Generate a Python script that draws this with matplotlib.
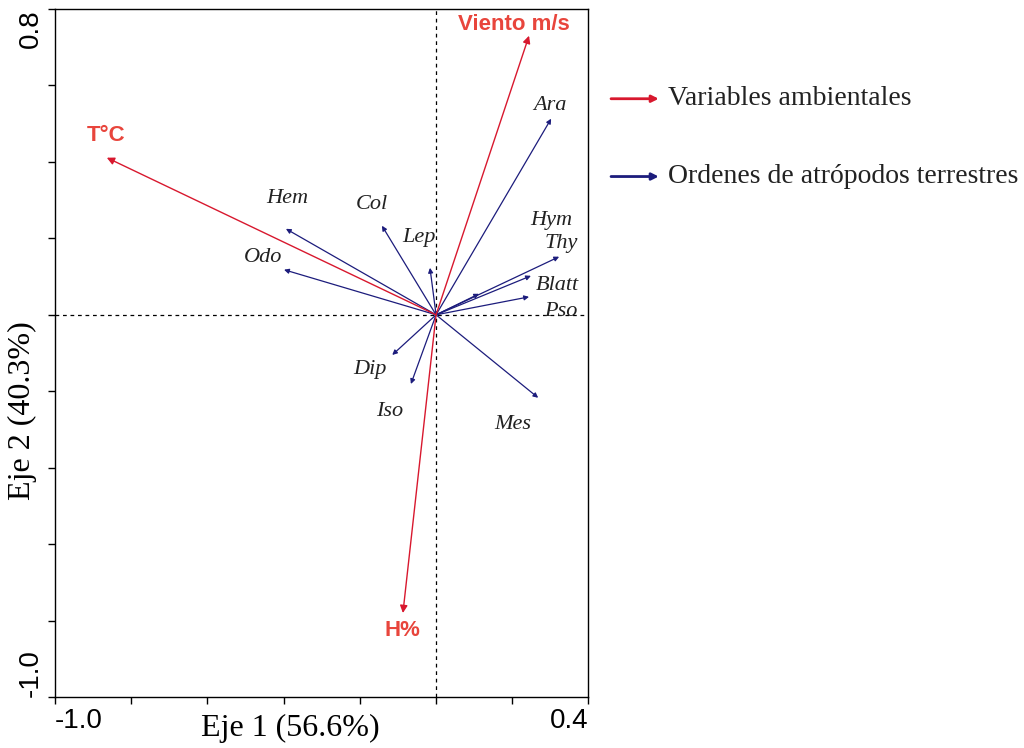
import matplotlib.pyplot as plt

# environmental variables (red vectors)
env_names = ["Viento m/s", "T°C", "H%"]
env_x = [0.244, -0.864, -0.087]
env_y = [0.730, 0.411, -0.780]
env_lab_x = [0.205, -0.866, -0.089]
env_lab_y = [0.760, 0.469, -0.827]

# arthropod orders (blue vectors)
ord_x = [0.302, 0.323, 0.249, 0.244, 0.113, -0.142, -0.016, -0.394, -0.399, -0.115, -0.066, 0.268]
ord_y = [0.513, 0.152, 0.102, 0.047, 0.055, 0.233, 0.123, 0.225, 0.118, -0.105, -0.181, -0.217]

ord_names = ["Ara", "Hym", "Thy", "Blatt", "Pso", "Col", "Lep", "Hem", "Odo", "Dip", "Iso", "Mes"]
ord_lab_x = [0.299, 0.302, 0.328, 0.318, 0.328, -0.168, -0.045, -0.391, -0.454, -0.173, -0.121, 0.202]
ord_lab_y = [0.547, 0.246, 0.186, 0.076, 0.010, 0.288, 0.202, 0.304, 0.149, -0.144, -0.254, -0.288]

red = "#d8182e"
red_txt = "#e8453c"
blue = "#1c1c7c"

fig = plt.figure(figsize=(10.24, 7.48), dpi=100)
ax = fig.add_axes([0.0537, 0.068, 0.521, 0.920])

ax.axvline(0, color="black", ls=(0, (3, 3)), lw=0.9)
ax.axhline(0, color="black", ls=(0, (3, 3)), lw=0.9)

for x, y in zip(ord_x, ord_y):
    ax.annotate("", xy=(x, y), xytext=(0, 0),
                arrowprops=dict(arrowstyle="-|>", color=blue, lw=0.9, mutation_scale=7, shrinkA=0, shrinkB=0))
for name, lx, ly in zip(ord_names, ord_lab_x, ord_lab_y):
    ax.text(lx, ly, name, ha="center", va="center", fontsize=16,
            style="italic", family="Liberation Serif", color="#222222")

for x, y in zip(env_x, env_y):
    ax.annotate("", xy=(x, y), xytext=(0, 0),
                arrowprops=dict(arrowstyle="-|>", color=red, lw=1.0, mutation_scale=11, shrinkA=0, shrinkB=0))
for name, lx, ly in zip(env_names, env_lab_x, env_lab_y):
    ax.text(lx, ly, name, ha="center", va="center", fontsize=16,
            fontweight="bold", family="Liberation Sans", color=red_txt)

ax.set_xlim(-1.0, 0.4)
ax.set_ylim(-1.0, 0.8)

xt = [-1.0, -0.8, -0.6, -0.4, -0.2, 0.0, 0.2, 0.4]
yt = [-1.0, -0.8, -0.6, -0.4, -0.2, 0.0, 0.2, 0.4, 0.6, 0.8]
ax.set_xticks(xt)
ax.set_yticks(yt)
ax.set_xticklabels(["-1.0"] + [""] * 6 + ["0.4"], family="Liberation Sans", fontsize=20)
ax.set_yticklabels(["-1.0"] + [""] * 8 + ["0.8"], family="Liberation Sans", fontsize=20,
                   rotation=90)
ax.get_xticklabels()[0].set_ha("left")
ax.get_xticklabels()[-1].set_ha("right")
ax.get_yticklabels()[0].set_va("bottom")
ax.get_yticklabels()[-1].set_va("top")
ax.tick_params(direction="out", length=5, width=1, pad=3)

for s in ax.spines.values():
    s.set_linewidth(1.0)

ax.set_xlabel("Eje 1 (56.6%)", family="Liberation Serif", fontsize=23)
ax.set_ylabel("Eje 2 (40.3%)", family="Liberation Serif", fontsize=23)
ax.xaxis.set_label_coords(0.441, -0.024)
ax.yaxis.set_label_coords(-0.033, 0.417)

# legend drawn as free arrows in figure space
for yy, col, txt in [(0.868, red, "Variables ambientales"),
                     (0.764, blue, "Ordenes de atrópodos terrestres")]:
    fig.add_artist(plt.matplotlib.patches.FancyArrowPatch(
        (0.594, yy), (0.646, yy), transform=fig.transFigure, arrowstyle="-|>",
        color=col, lw=2, mutation_scale=10))
    fig.text(0.652, yy, txt, ha="left", va="center", family="Liberation Serif",
             fontsize=20, color="#222222")

fig.savefig("out.png", dpi=100)
